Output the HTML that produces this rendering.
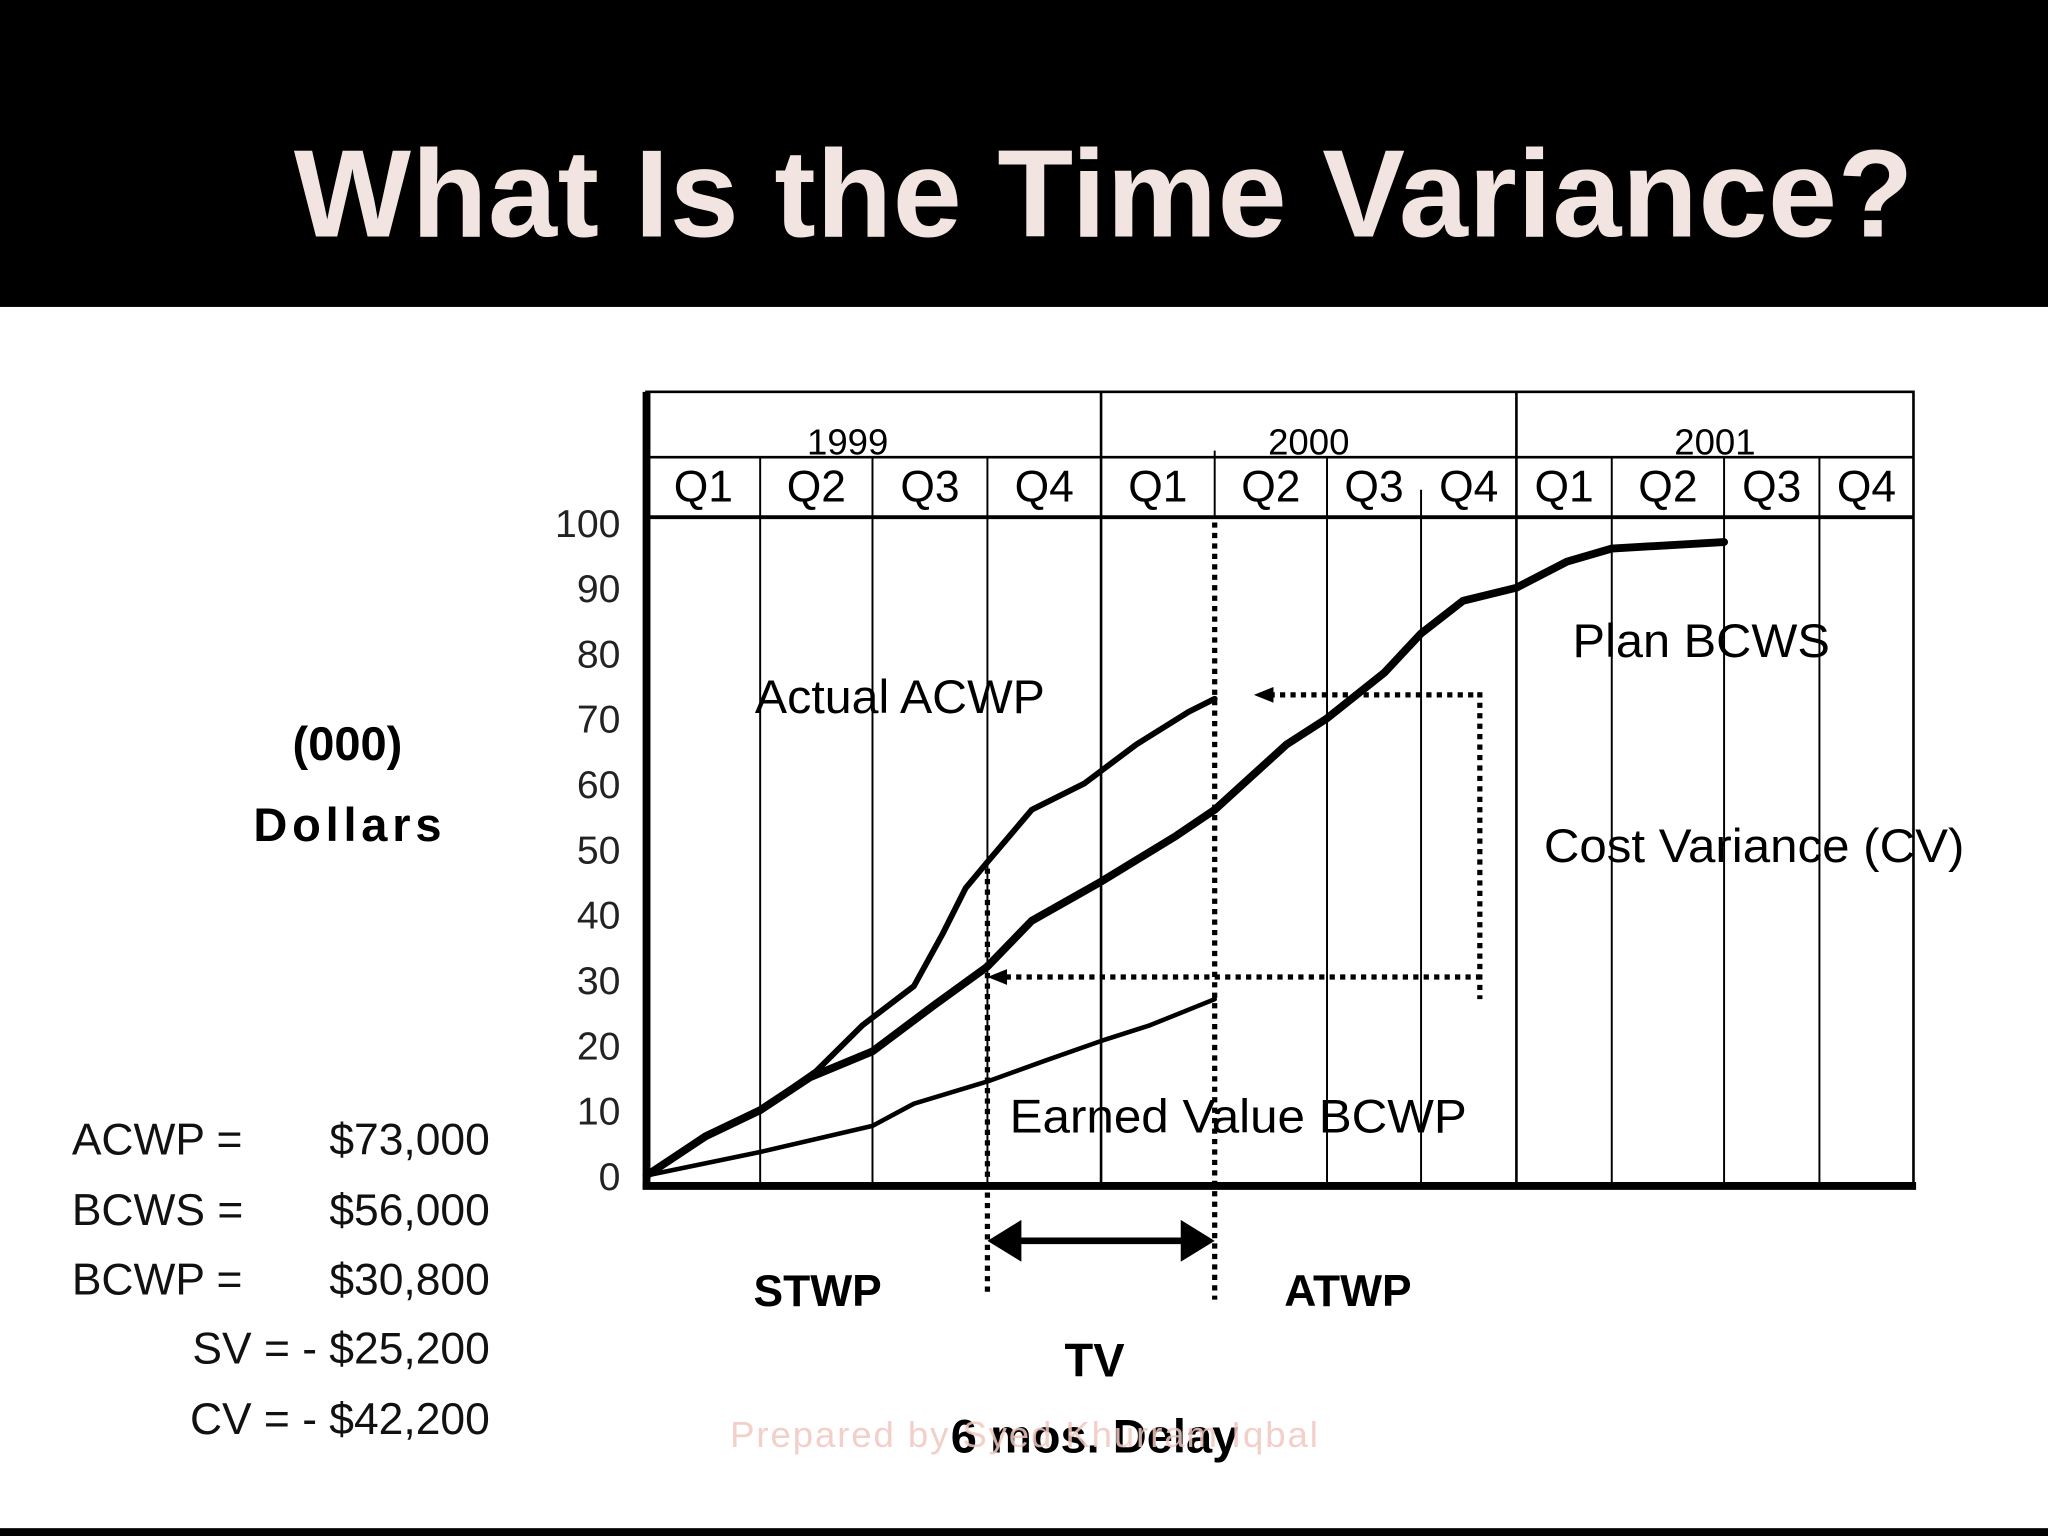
<!DOCTYPE html>
<html><head><meta charset="utf-8"><style>
html,body{margin:0;padding:0;background:#fff;}
svg{display:block;}
</style></head><body>
<svg width="2048" height="1536" viewBox="0 0 1568 1176" xmlns="http://www.w3.org/2000/svg" font-family="Liberation Sans, sans-serif">
<rect x="0" y="0" width="1568" height="235" fill="#000"/>
<text x="845" y="181" text-anchor="middle" font-size="95" font-weight="bold" fill="#f2e4e0" textLength="1240" lengthAdjust="spacing">What Is the Time Variance?</text>
<rect x="0" y="1170" width="1568" height="6" fill="#000"/>
<g id="chart"></g>
<text x="266" y="582" text-anchor="middle" font-size="36" font-weight="bold">(000)</text>
<text x="266" y="644" text-anchor="middle" font-size="36" font-weight="bold" textLength="144">Dollars</text>
<g font-size="34" fill="#111">
<text x="55" y="884">ACWP =</text><text x="375" y="884" text-anchor="end">$73,000</text>
<text x="55" y="938">BCWS =</text><text x="375" y="938" text-anchor="end">$56,000</text>
<text x="55" y="991">BCWP =</text><text x="375" y="991" text-anchor="end">$30,800</text>
<text x="375" y="1044" text-anchor="end">SV = - $25,200</text>
<text x="375" y="1098" text-anchor="end">CV = - $42,200</text>
</g>
<text x="626" y="1000" text-anchor="middle" font-size="34" font-weight="bold">STWP</text>
<text x="1032" y="1000" text-anchor="middle" font-size="34" font-weight="bold">ATWP</text>
<text x="838" y="1054" text-anchor="middle" font-size="36" font-weight="bold">TV</text>
<text x="838" y="1112" text-anchor="middle" font-size="36" font-weight="bold">6 mos. Delay</text>
<text x="784" y="1108" text-anchor="middle" font-size="28" fill="#f0c8c0" opacity="0.85" textLength="450">Prepared by Syed Khurram Iqbal</text>
</svg>
<script>
const quarterLabels=["Q1","Q2","Q3","Q4","Q1","Q2","Q3","Q4","Q1","Q2","Q3","Q4"];
const yearLabels=["1999","2000","2001"];
const yTicks=[0,10,20,30,40,50,60,70,80,90,100];
const bcwsT=[0,0.52,1,1.44,2,2.53,3,3.39,4,4.66,5,5.64,6,6.61,7,7.44,8,8.53,9,10];
const bcwsV=[0,6,10,15,19,26,32,39,45,52,56,66,70,77,83,88,90,94,96,97];
const acwpT=[0,0.52,1,1.5,1.91,2.36,2.61,2.81,3,3.39,3.85,4.31,4.77,5];
const acwpV=[0,6,10,16,23,29,37,44,48,56,60,66,71,73];
const bcwpT=[0,1,2,2.36,3,3.51,4,4.43,5];
const bcwpV=[0,3.6,7.6,11,14.4,17.6,20.6,23,27];
const B=[495,582,668,756,843,930,1016,1088,1161,1234,1320,1393,1465];
function xs(t){const i=Math.min(Math.floor(t),11);return B[i]+(B[i+1]-B[i])*(t-i);}
function ys(v){return 900-5*v;}
const NS="http://www.w3.org/2000/svg";
const g=document.getElementById('chart');
function mk(tag,a,name){const e=document.createElementNS(NS,tag);for(const k in a)e.setAttribute(k,a[k]);


g.appendChild(e);return e;}
function line(x1,y1,x2,y2,w,name,dash){const a={x1,y1,x2,y2,stroke:"#000","stroke-width":w};if(dash)a["stroke-dasharray"]=dash;return mk('line',a,name);}
mk('rect',{x:495,y:300,width:970,height:608,fill:"none",stroke:"#000","stroke-width":2},'plot-frame');
line(495,350,1465,350,2,'year-row-divider');
line(495,396,1465,396,3,'header-divider');
line(843,300,843,908,2,'year-line-2000');
line(1161,300,1161,908,2,'year-line-2001');
for(let i=1;i<12;i++){if(i===4||i===8||i===5)continue;line(B[i],i===7?375:350,B[i],908,1.5,'quarter-line');}
line(930,345,930,396,1.5,'quarter-line');
line(495,300,495,910,6,'y-axis');
line(492,908,1467,908,6,'x-axis');
quarterLabels.forEach((q,i)=>{const t=mk('text',{x:(B[i]+B[i+1])/2,y:384,"text-anchor":"middle","font-size":34},'quarter-label');t.textContent=q;});
yearLabels.forEach((y,i)=>{const t=mk('text',{x:(B[i*4]+B[i*4+4])/2+(i===0?-20:0),y:348,"text-anchor":"middle","font-size":28},'year-label');t.textContent=y;});
yTicks.forEach(v=>{const t=mk('text',{x:475,y:ys(v)+11,"text-anchor":"end","font-size":30,fill:"#222"},'y-tick-label');t.textContent=v;});
function series(T,V,w,name){mk('path',{d:T.map((t,i)=>(i?'L':'M')+xs(t).toFixed(1)+','+ys(V[i]).toFixed(1)).join(''),fill:"none",stroke:"#000","stroke-width":w,"stroke-linejoin":"round","stroke-linecap":"round"},name);}
const d="4,4";
line(930,400,930,995,4,'atwp-guide',d);
line(756,665,756,990,4,'stwp-guide',d);
line(762,748,1133,748,4,'cv-lower-guide',d);
line(1133,530,1133,765,4,'cv-side-guide',d);
line(972,532,1133,532,4,'cv-upper-guide',d);
mk('path',{d:"M960,532 L975,526 L975,538 Z",fill:"#000"},'cv-arrowhead');
mk('path',{d:"M756,748 L771,742 L771,754 Z",fill:"#000"},'cv-arrowhead');
series(bcwsT,bcwsV,6,'bcws-line');
series(acwpT,acwpV,4.5,'acwp-line');
series(bcwpT,bcwpV,3.5,'bcwp-line');
line(775,950,912,950,5,'tv-arrow');
mk('path',{d:"M756,950 L782,934 L782,966 Z",fill:"#000"},'tv-arrowhead-left');
mk('path',{d:"M930,950 L904,934 L904,966 Z",fill:"#000"},'tv-arrowhead-right');
function lab(x,y,s,len,name){const t=mk('text',{x,y,"font-size":36,fill:"#000",textLength:len,lengthAdjust:"spacingAndGlyphs"},name);t.textContent=s;}
lab(578,546,"Actual ACWP",222,'acwp-label');
lab(1204,503,"Plan BCWS",197,'bcws-label');
lab(1182,660,"Cost Variance (CV)",322,'cv-label');
lab(773,867,"Earned Value BCWP",350,'bcwp-label');
</script>
</body></html>
